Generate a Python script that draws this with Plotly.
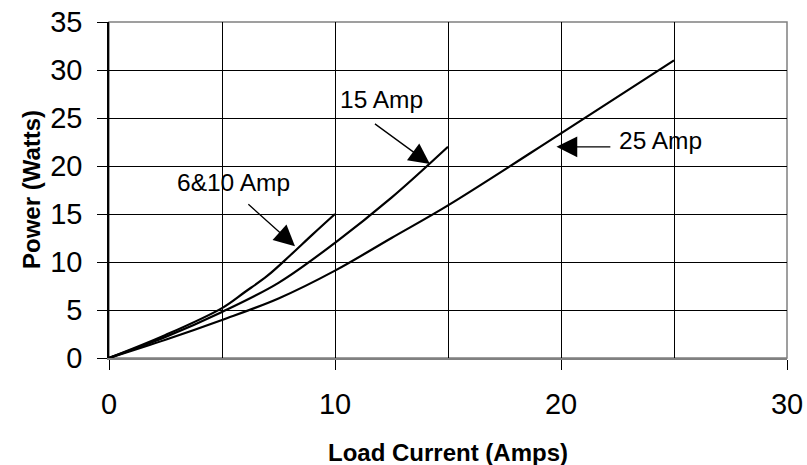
import plotly.graph_objects as go

# Data
x_6_10 = [0, 2.5, 5, 6, 7, 8, 9, 10]
y_6_10 = [0, 2.4, 5.2, 6.85, 8.55, 10.65, 12.85, 15]

x_15 = [0, 2.5, 5, 7.5, 10, 12.5, 15]
y_15 = [0, 2.2, 4.8, 7.83, 12.0, 16.7, 22]

x_25 = [0, 2.5, 5, 7.5, 10, 12.5, 15, 20, 25]
y_25 = [0, 1.9, 3.96, 6.2, 9.1, 12.5, 15.9, 23.4, 31]

labels = ["6&10 Amp", "15 Amp", "25 Amp"]
label_pos = [(5.51, 18.33), (12.06, 26.93), (24.4, 22.66)]
arrow_tips = [(8.23, 11.65), (14.2, 20.2), (19.8, 22.0)]
arrow_tails = [(6.1, 16.15), (11.7, 24.5), (22.25, 22.0)]

x_title = "Load Current (Amps)"
y_title = "Power (Watts)"

FONT = "Liberation Sans, Arial, sans-serif"

fig = go.Figure()
for xs, ys in [(x_6_10, y_6_10), (x_15, y_15), (x_25, y_25)]:
    fig.add_trace(go.Scatter(x=xs, y=ys, mode="lines",
                             line=dict(color="black", width=2.2, shape="spline", smoothing=1.0),
                             showlegend=False, hoverinfo="skip"))

for txt, (lx, ly) in zip(labels, label_pos):
    fig.add_annotation(x=lx, y=ly, text=txt, showarrow=False, xref="x", yref="y",
                       font=dict(family=FONT, size=24.5, color="black"))
for (tx, ty), (ax, ay) in zip(arrow_tips, arrow_tails):
    fig.add_annotation(x=tx, y=ty, ax=ax, ay=ay, xref="x", yref="y", axref="x", ayref="y",
                       text="", showarrow=True, arrowhead=2, arrowsize=3.2, arrowwidth=1.3,
                       arrowcolor="black")

# axis titles
fig.add_annotation(x=0.5, y=-0.2798, xref="paper", yref="paper", text="<b>%s</b>" % x_title,
                   showarrow=False, xanchor="center", yanchor="middle",
                   font=dict(family=FONT, size=24, color="black"))
fig.add_annotation(x=-0.115, y=0.5, xref="paper", yref="paper", text="<b>%s</b>" % y_title,
                   showarrow=False, xanchor="center", yanchor="middle", textangle=-90,
                   font=dict(family=FONT, size=24, color="black"))

fig.add_shape(type="rect", xref="paper", yref="paper", x0=0, y0=0, x1=1, y1=1,
              line=dict(color="#808080", width=1.5), layer="below")

fig.update_xaxes(range=[0, 30], dtick=10, tick0=0, ticks="outside", ticklen=10, tickcolor="black",
                 showgrid=True, gridcolor="black", gridwidth=1,
                 minor=dict(dtick=5, showgrid=True, gridcolor="black", gridwidth=1, ticks=""),
                 showline=True, linecolor="#808080", linewidth=2, zeroline=False,
                 ticklabelstandoff=9, automargin=False, ticklabeloverflow="allow",
                 tickfont=dict(family=FONT, size=29, color="black"))
fig.update_yaxes(range=[0, 35], dtick=5, tick0=0, ticks="outside", ticklen=10, tickcolor="black",
                 showgrid=True, gridcolor="black", gridwidth=1,
                 showline=True, linecolor="black", linewidth=1.5, zeroline=False,
                 ticklabelstandoff=9, automargin=False, ticklabeloverflow="allow",
                 tickfont=dict(family=FONT, size=29, color="black"))

fig.update_layout(width=807, height=465, margin=dict(l=109, r=20, t=22, b=107),
                  plot_bgcolor="white", paper_bgcolor="white", hovermode=False)
# remove the browser's default 8px body margin so the figure fills the window
fig.write_html("out.html", config={"displayModeBar": False},
               post_script="document.body.style.margin='0';")
